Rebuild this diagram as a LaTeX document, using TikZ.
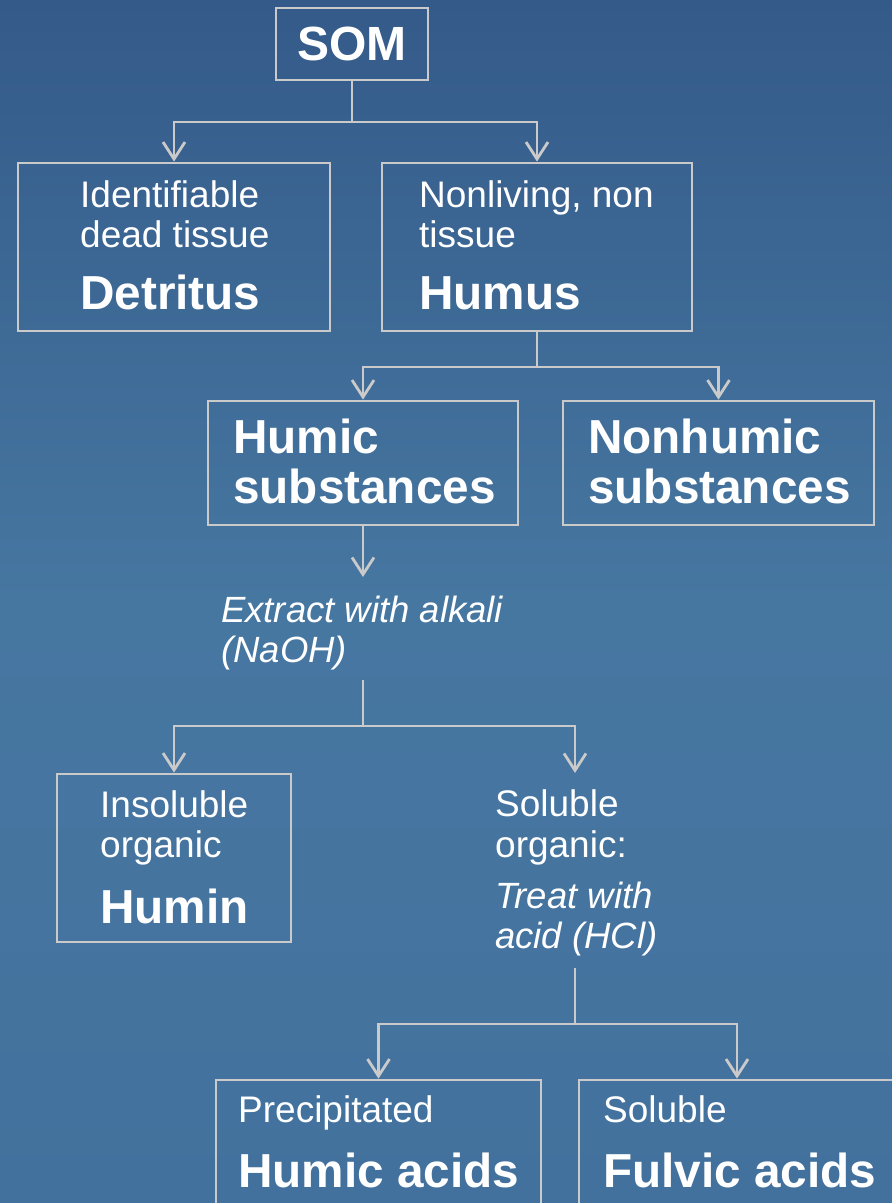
\documentclass[tikz,border=0pt]{standalone}
\usepackage{fontspec}
\setmainfont{Liberation Sans}
\usetikzlibrary{arrows.meta}
\definecolor{bgtop}{HTML}{345A89}
\definecolor{bgmid}{HTML}{4677A1}
\definecolor{bgbot}{HTML}{43719D}
\definecolor{linec}{HTML}{CACACA}
\tikzset{
 box/.style={draw=linec, line width=2.8pt, inner sep=0pt, text=white},
 conn/.style={draw=linec, line width=2.8pt},
 arr/.style={conn, -{Straight Barb[length=17pt,width=22pt]}},
 reg/.style={anchor=base west, inner sep=0pt, text=white, font=\fontsize{37}{40}\selectfont},
 bld/.style={anchor=base west, inner sep=0pt, text=white, font=\fontsize{47.7}{50}\selectfont\bfseries},
 ita/.style={anchor=base west, inner sep=0pt, text=white, font=\fontsize{36.5}{40}\selectfont\itshape},
}
\begin{document}
\begin{tikzpicture}[x=1pt,y=-1pt]
\useasboundingbox (0,0) rectangle (892,1203);
\clip (0,0) rectangle (892,1203);
\shade[top color=bgtop, bottom color=bgbot, middle color=bgmid] (0,0) rectangle (892,1203);

% boxes
\node[box, minimum width=152pt, minimum height=72pt, font=\fontsize{48}{50}\selectfont\bfseries] (som) at (352,44) {SOM};
\node[box, minimum width=312pt, minimum height=168pt] (det) at (174,247) {};
\node[box, minimum width=310pt, minimum height=168pt] (hum) at (537,247) {};
\node[box, minimum width=310pt, minimum height=124pt] (hsub) at (363,463) {};
\node[box, minimum width=311pt, minimum height=124pt] (nhsub) at (718.5,463) {};
\node[box, minimum width=234pt, minimum height=168pt] (humin) at (174,858) {};
\node[box, minimum width=325pt, minimum height=140pt] (hacid) at (378.5,1150) {};
\node[box, minimum width=316pt, minimum height=140pt] (facid) at (737,1150) {};

% texts
\node[reg] (t1) at (80,207) {Identifiable};
\node[reg] (t2) at (80,247) {dead tissue};
\node[bld] (t3) at (80,309) {Detritus};
\node[reg] (t4) at (419,207) {Nonliving, non};
\node[reg] (t5) at (419,247) {tissue};
\node[bld] (t6) at (419,309) {Humus};
\node[bld] (t7) at (233,453) {Humic};
\node[bld] (t8) at (233,503) {substances};
\node[bld] (t9) at (588,453) {Nonhumic};
\node[bld] (t10) at (588,503) {substances};
\node[ita] (t11) at (221,622) {Extract with alkali};
\node[ita] (t12) at (221,662) {(NaOH)};
\node[reg] (t13) at (100,817) {Insoluble};
\node[reg] (t14) at (100,857) {organic};
\node[bld] (t15) at (100,923) {Humin};
\node[reg] (t16) at (495,816) {Soluble};
\node[reg] (t17) at (495,857) {organic:};
\node[ita] (t18) at (495,908) {Treat with};
\node[ita] (t19) at (495,948) {acid (HCl)};
\node[reg] (t20) at (238,1122) {Precipitated};
\node[bld] (t21) at (238,1187) {Humic acids};
\node[reg] (t22) at (603,1122) {Soluble};
\node[bld] (t23) at (603,1187) {Fulvic acids};

% junction coordinates
\coordinate (j1) at (352,122);
\coordinate (j2) at (537,367);
\coordinate (e1) at (363,577);
\coordinate (e2) at (363,680);
\coordinate (j3) at (363,726);
\coordinate (s1) at (575,773);
\coordinate (e3) at (575,968);
\coordinate (j4) at (575,1024);

% connectors
\draw[arr] (som.south) -- (j1) -| (det.north);
\draw[arr] (j1) -| (hum.north);
\draw[arr] (hum.south) -- (j2) -| (hsub.north);
\draw[arr] (j2) -| (nhsub.north);
\draw[arr] (hsub.south) -- (e1);
\draw[arr] (e2) -- (j3) -| (humin.north);
\draw[arr] (j3) -| (s1);
\draw[arr] (e3) -- (j4) -| (hacid.north);
\draw[arr] (j4) -| (facid.north);
\end{tikzpicture}
\end{document}
